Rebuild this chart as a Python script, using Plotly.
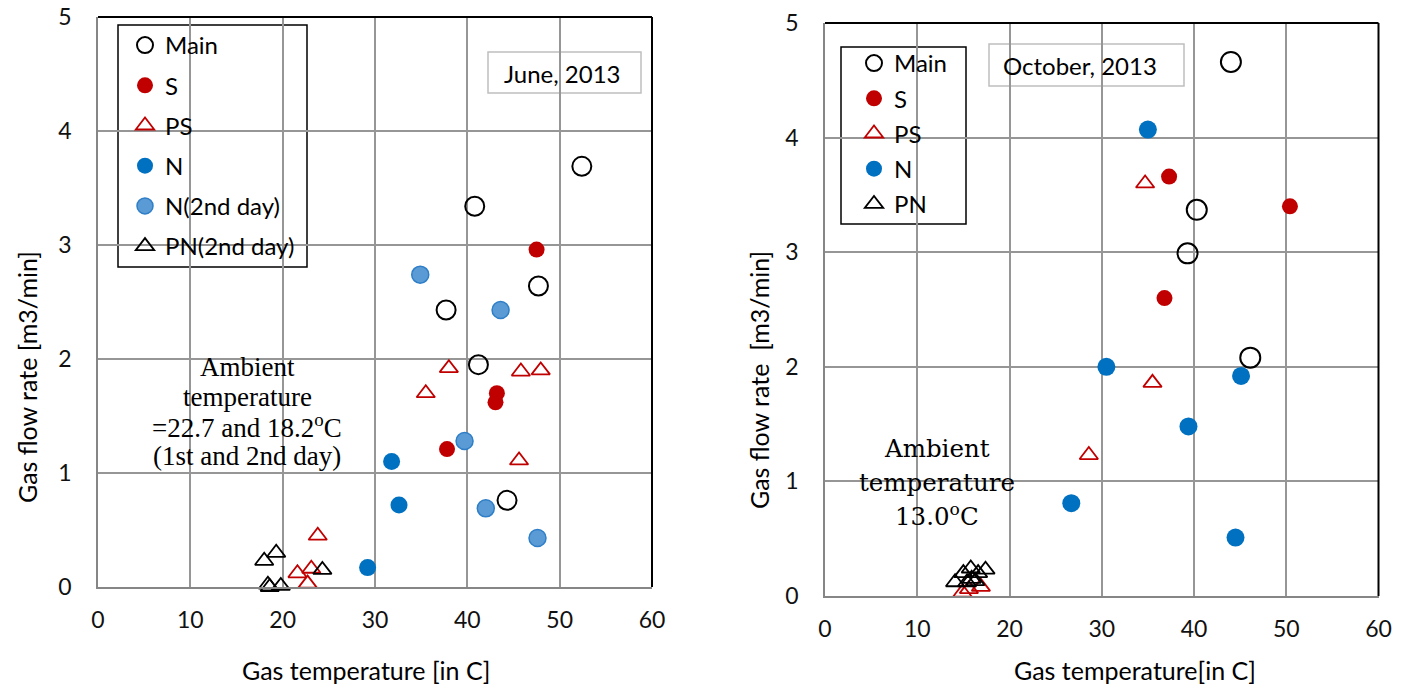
import plotly.graph_objects as go

W, H = 1407, 689

# ---------------- June, 2013 (left) ----------------
jun_main_x = [52.4, 40.8, 47.7, 37.7, 41.2, 44.3]
jun_main_y = [3.69, 3.34, 2.64, 2.43, 1.95, 0.76]
jun_s_x = [47.5, 43.2, 43.05, 37.8]
jun_s_y = [2.96, 1.70, 1.62, 1.21]
jun_ps_x = [38.0, 45.8, 47.95, 35.5, 45.6, 23.8, 21.6, 23.1, 22.7, 23.0]
jun_ps_y = [1.92, 1.89, 1.90, 1.70, 1.11, 0.45, 0.12, 0.16, 0.03, -0.06]
jun_n_x = [31.8, 32.6, 29.2]
jun_n_y = [1.10, 0.72, 0.17]
jun_n2_x = [34.9, 43.6, 39.7, 42.0, 47.6]
jun_n2_y = [2.74, 2.43, 1.28, 0.69, 0.43]
jun_pn2_x = [18.0, 19.3, 24.3, 18.4, 18.6, 18.3, 19.8]
jun_pn2_y = [0.23, 0.30, 0.15, 0.02, 0.00, -0.03, 0.01]

# ---------------- October, 2013 (right) ----------------
oct_main_x = [44.0, 40.3, 39.3, 46.1]
oct_main_y = [4.66, 3.37, 2.99, 2.08]
oct_s_x = [37.3, 50.4, 36.8]
oct_s_y = [3.66, 3.40, 2.60]
oct_ps_x = [34.7, 35.5, 28.6, 14.9, 15.6, 16.9]
oct_ps_y = [3.60, 1.86, 1.23, 0.03, 0.06, 0.08]
oct_n_x = [35.0, 30.5, 45.1, 39.4, 26.7, 44.5]
oct_n_y = [4.07, 2.00, 1.92, 1.48, 0.81, 0.51]
oct_pn_x = [14.1, 15.0, 15.8, 16.6, 17.4, 15.9, 15.4, 16.3]
oct_pn_y = [0.12, 0.20, 0.24, 0.20, 0.23, 0.15, 0.12, 0.13]

x_ticks = [0, 10, 20, 30, 40, 50, 60]
y_ticks = [0, 1, 2, 3, 4, 5]

RED = "#C00000"
BLUE = "#0070C0"
LBLUE = "#5B9BD5"
SANS = "Lato"


def px(x):
    return x / W


def py(y):
    return 1 - y / H


fig = go.Figure()


def add(xs, ys, name, symbol, size, color, line_color=None, line_width=0,
        xa="x", ya="y", legend="legend"):
    fig.add_trace(go.Scatter(
        x=xs, y=ys, mode="markers", name=name, xaxis=xa, yaxis=ya,
        legend=legend, legendgroup=legend + name, cliponaxis=False,
        marker=dict(symbol=symbol, size=size, color=color,
                    line=dict(color=line_color or color, width=line_width)),
    ))


# left
add(jun_main_x, jun_main_y, "Main", "circle-open", 19, "black", "black", 2)
add(jun_s_x, jun_s_y, "S", "circle", 16, RED)
add(jun_ps_x, jun_ps_y, "PS", "triangle-up-open", 16, RED, RED, 1.8)
add(jun_n_x, jun_n_y, "N", "circle", 17, BLUE)
add(jun_n2_x, jun_n2_y, "N(2nd day)", "circle", 17, LBLUE, "#2E7EC8", 1.5)
add(jun_pn2_x, jun_pn2_y, "PN(2nd day)", "triangle-up-open", 16, "black", "black", 1.8)

# right
kw = dict(xa="x2", ya="y2", legend="legend2")
add(oct_main_x, oct_main_y, "Main", "circle-open", 20, "black", "black", 2, **kw)
add(oct_s_x, oct_s_y, "S", "circle", 16, RED, **kw)
add(oct_ps_x, oct_ps_y, "PS", "triangle-up-open", 16, RED, RED, 1.8, **kw)
add(oct_n_x, oct_n_y, "N", "circle", 18, BLUE, **kw)
add(oct_pn_x, oct_pn_y, "PN", "triangle-up-open", 16, "black", "black", 1.8, **kw)

axis_common = dict(
    showgrid=True, gridcolor="#969696", gridwidth=1.5,
    showline=True, linecolor="#868686", linewidth=1.5,
    zeroline=False, ticks="", fixedrange=True, automargin=False,
    tickfont=dict(family=SANS, size=23, color="#111111"),
)

fig.update_layout(
    width=W, height=H, autosize=False,
    margin=dict(l=0, r=0, t=0, b=0, autoexpand=False),
    paper_bgcolor="white", plot_bgcolor="white",
    font=dict(family=SANS, color="black"),
    xaxis=dict(domain=[px(98), px(652)], range=[0, 60], tickvals=x_ticks,
               anchor="y", ticklabelstandoff=12, **axis_common),
    yaxis=dict(domain=[py(587), py(17)], range=[0, 5], tickvals=y_ticks,
               anchor="x", ticklabelstandoff=20, **axis_common),
    xaxis2=dict(domain=[px(825), px(1378.5)], range=[0, 60], tickvals=x_ticks,
                anchor="y2", ticklabelstandoff=12, **axis_common),
    yaxis2=dict(domain=[py(596), py(23)], range=[0, 5], tickvals=y_ticks,
                anchor="x2", ticklabelstandoff=20, **axis_common),
    legend=dict(xref="container", yref="container",
                x=px(125), y=py(23), xanchor="left", yanchor="top",
                bgcolor="rgba(0,0,0,0)", borderwidth=0, traceorder="grouped",
                tracegroupgap=6, font=dict(family=SANS, size=24, color="black")),
    legend2=dict(xref="container", yref="container",
                 x=px(854), y=py(41), xanchor="left", yanchor="top",
                 bgcolor="rgba(0,0,0,0)", borderwidth=0, traceorder="grouped",
                 tracegroupgap=1, font=dict(family=SANS, size=24, color="black")),
)

shapes = []
# black top/right borders of plot areas
for xa, ya in (("x", "y"), ("x2", "y2")):
    shapes.append(dict(type="line", xref=f"{xa} domain", yref=f"{ya} domain",
                       x0=0, x1=1, y0=1, y1=1, line=dict(color="black", width=2)))
    shapes.append(dict(type="line", xref=f"{xa} domain", yref=f"{ya} domain",
                       x0=1, x1=1, y0=0, y1=1, line=dict(color="black", width=2)))


def box(x0, y0, x1, y1, line_color=None, lw=0):
    shapes.append(dict(type="rect", xref="paper", yref="paper", layer="between",
                       x0=px(x0), x1=px(x1), y0=py(y1), y1=py(y0),
                       fillcolor="white",
                       line=dict(color=line_color or "white", width=lw)))


box(118, 25, 307, 267, "black", 1.5)     # left legend
box(841, 47, 966, 224, "black", 1.5)     # right legend
box(488, 52, 641, 93, "#BFBFBF", 1.5)    # June box
box(989, 44, 1184, 86, "#BFBFBF", 1.5)   # October box
box(123, 343, 372, 477)                  # ambient left
box(835, 432, 1037, 530)                 # ambient right
fig.update_layout(shapes=shapes)

ann = []


def text(x, y, s, size, family=SANS, angle=0):
    ann.append(dict(xref="paper", yref="paper", x=px(x), y=py(y), text=s,
                    showarrow=False, xanchor="center", yanchor="middle",
                    textangle=angle,
                    font=dict(family=family, size=size, color="black")))


text(562, 73, "June, 2013", 24)
text(1080, 66, "October, 2013", 24)

SERIF = "Liberation Serif"
text(247, 367, "Ambient", 27, SERIF)
text(247, 397, "temperature", 27, SERIF)
text(247, 426, "=22.7 and 18.2<sup>o</sup>C", 27, SERIF)
text(247, 456, "(1st and 2nd day)", 27, SERIF)

SERIF2 = "DejaVu Serif"
text(937, 449, "Ambient", 24.5, SERIF2)
text(937, 482, "temperature", 24.5, SERIF2)
text(937, 515, "13.0<sup>o</sup>C", 24.5, SERIF2)

text(366, 670, "Gas temperature [in C]", 25)
text(1135, 670, "Gas temperature[in C]", 25)
text(27, 377, "Gas flow rate [m3/min]", 25, angle=-90)
text(759, 380, "Gas flow rate  [m3/min]", 25, angle=-90)

fig.update_layout(annotations=ann)

fig.write_html("out.html")
